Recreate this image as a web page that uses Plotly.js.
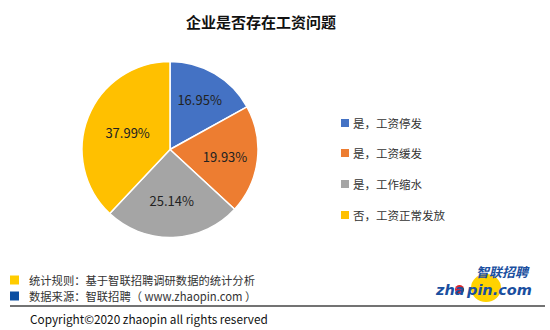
<!DOCTYPE html>
<html>
<head>
<meta charset="utf-8">
<script src="https://cdn.plot.ly/plotly-3.0.1.min.js"></script>
<style>html,body{margin:0;padding:0;background:#fff;}#chart{width:550px;height:330px;}</style>
</head>
<body>
<div id="chart"></div>
<script>
var categories = ["是，工资停发", "是，工资缓发", "是，工作缩水", "否，工资正常发放"];
var values = [16.95, 19.93, 25.14, 37.99];
var labelsText = ["16.95%", "19.93%", "25.14%", "37.99%"];
var colors = ["#4472C4", "#ED7D31", "#A5A5A5", "#FFC000"];
var titleText = "企业是否存在工资问题";
var footerNotes = ["统计规则：基于智联招聘调研数据的统计分析", "数据来源：智联招聘（ www.zhaopin.com ）"];
var copyrightText = "Copyright©2020 zhaopin all rights reserved";

var W = 550, H = 330;
function px(x){ return x / W; }
function py(y){ return 1 - y / H; }

var cx = 170, cy = 149.5, r = 88;
var FONT = "Noto Sans CJK SC, Noto Sans, sans-serif";

var trace = {
  type: "pie",
  labels: categories,
  values: values,
  text: labelsText,
  textinfo: "text",
  textposition: "inside",
  insidetextorientation: "horizontal",
  sort: false,
  direction: "clockwise",
  rotation: 0,
  marker: { colors: colors, line: { color: "#ffffff", width: 1.5 } },
  textfont: { family: FONT, size: 13, color: "#222222" },
  domain: { x: [px(cx - r), px(cx + r)], y: [py(cy + r), py(cy - r)] },
  hoverinfo: "label+text",
  showlegend: false
};

var annotations = [];
var shapes = [];

annotations.push({
  xref: "paper", yref: "paper", x: px(261), y: py(22),
  text: "<b>" + titleText + "</b>", showarrow: false,
  xanchor: "center", yanchor: "middle",
  font: { family: FONT, size: 15, color: "#111111" }
});

var legendY = [123, 153, 184, 215];
categories.forEach(function(c, i){
  shapes.push({ type: "rect", xref: "paper", yref: "paper",
    x0: px(341), x1: px(349), y0: py(legendY[i] + 4), y1: py(legendY[i] - 4),
    fillcolor: colors[i], line: { width: 0 } });
  annotations.push({ xref: "paper", yref: "paper", x: px(351), y: py(legendY[i]),
    text: c, showarrow: false, xanchor: "left", yanchor: "middle",
    font: { family: FONT, size: 11.5, color: "#333333" } });
});

var footY = [280, 296];
var footColors = ["#FFCC00", "#0B4EA2"];
footerNotes.forEach(function(t, i){
  shapes.push({ type: "rect", xref: "paper", yref: "paper",
    x0: px(10), x1: px(19), y0: py(footY[i] + 4.5), y1: py(footY[i] - 4.5),
    fillcolor: footColors[i], line: { width: 0 } });
  annotations.push({ xref: "paper", yref: "paper", x: px(27), y: py(footY[i]),
    text: t, showarrow: false, xanchor: "left", yanchor: "middle",
    font: { family: FONT, size: 11.3, color: "#333333" } });
});

shapes.push({ type: "line", xref: "paper", yref: "paper",
  x0: px(10), x1: px(545), y0: py(306), y1: py(306),
  line: { color: "#444444", width: 1.5 } });

annotations.push({ xref: "paper", yref: "paper", x: px(28), y: py(318),
  text: copyrightText, showarrow: false, xanchor: "left", yanchor: "middle",
  font: { family: FONT, size: 11.8, color: "#111111" } });

// logo
shapes.push({ type: "circle", xref: "paper", yref: "paper",
  x0: px(471), x1: px(501), y0: py(302), y1: py(274),
  fillcolor: "#FFD200", line: { width: 0 } });
shapes.push({ type: "circle", xref: "paper", yref: "paper",
  x0: px(455), x1: px(464), y0: py(294), y1: py(285),
  fillcolor: "#D8262B", line: { width: 0 } });
annotations.push({ xref: "paper", yref: "paper", x: px(433), y: py(290),
  text: "<b><i>zha</i></b>", showarrow: false, xanchor: "left", yanchor: "middle",
  font: { family: "DejaVu Sans, sans-serif", size: 14.5, color: "#1A4FA0" } });
annotations.push({ xref: "paper", yref: "paper", x: px(464), y: py(290),
  text: "<b><i>pin.com</i></b>", showarrow: false, xanchor: "left", yanchor: "middle",
  font: { family: "DejaVu Sans, sans-serif", size: 14.5, color: "#1A4FA0" } });
annotations.push({ xref: "paper", yref: "paper", x: px(474), y: py(271),
  text: "<b><i>智联招聘</i></b>", showarrow: false, xanchor: "left", yanchor: "middle",
  font: { family: FONT, size: 13, color: "#1A4FA0" } });

var layout = {
  width: W, height: H,
  margin: { l: 0, r: 0, t: 0, b: 0 },
  paper_bgcolor: "#ffffff",
  plot_bgcolor: "#ffffff",
  showlegend: false,
  annotations: annotations,
  shapes: shapes
};

Plotly.newPlot("chart", [trace], layout, { displayModeBar: false, staticPlot: true });
</script>
</body>
</html>
